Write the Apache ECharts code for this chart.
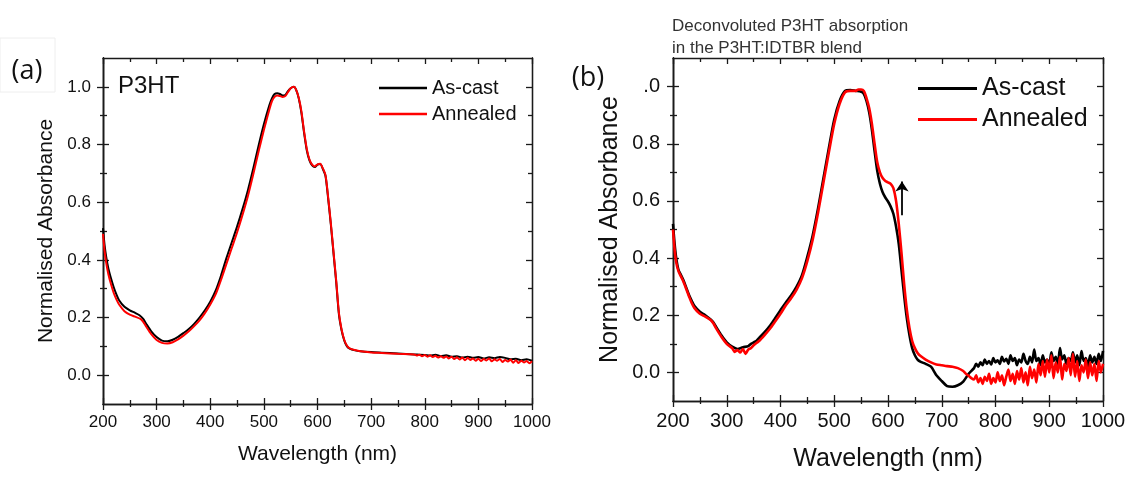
<!DOCTYPE html>
<html>
<head>
<meta charset="utf-8">
<script src="https://cdn.jsdelivr.net/npm/echarts@6/dist/echarts.min.js"></script>
<style>
html,body{margin:0;padding:0;background:#fff;}
#c{width:1131px;height:477px;}
</style>
</head>
<body>
<div id="c"></div>
<script>
// ---------- DATA ----------
const seriesNames = ['As-cast', 'Annealed'];
const xTicks = [200, 300, 400, 500, 600, 700, 800, 900, 1000];
const yMajorTicks = [0, 0.2, 0.4, 0.6, 0.8, 1.0];
const yMinorTicks = [0.1, 0.3, 0.5, 0.7, 0.9];

// Panel (a): P3HT film, [wavelength nm, normalised absorbance]
const asCastA = [[200,0.51],[203,0.45],[206,0.41],[210,0.37],[215,0.335],[220,0.305],[225,0.28],[230,0.26],[240,0.237],[250,0.225],[260,0.216],[268,0.208],[275,0.195],[280,0.18],[290,0.152],[300,0.132],[310,0.12],[320,0.118],[330,0.123],[340,0.133],[350,0.146],[360,0.16],[370,0.178],[380,0.2],[390,0.225],[400,0.255],[410,0.293],[420,0.345],[430,0.405],[440,0.46],[450,0.515],[460,0.575],[470,0.64],[480,0.715],[490,0.795],[500,0.87],[510,0.935],[515,0.96],[520,0.975],[525,0.978],[530,0.975],[535,0.97],[540,0.972],[545,0.985],[550,0.995],[556,1.0],[560,0.99],[565,0.96],[570,0.91],[575,0.84],[580,0.78],[585,0.745],[590,0.728],[595,0.722],[600,0.73],[605,0.732],[610,0.715],[615,0.69],[620,0.61],[625,0.52],[630,0.42],[635,0.32],[640,0.21],[645,0.155],[650,0.12],[655,0.1],[660,0.092],[670,0.086],[680,0.083],[700,0.08],[720,0.078],[750,0.075],[780,0.072],[800,0.07],[810,0.068],[820,0.071],[830,0.066],[840,0.069],[850,0.064],[860,0.066],[870,0.061],[880,0.064],[890,0.06],[900,0.063],[910,0.058],[920,0.062],[930,0.059],[940,0.063],[950,0.06],[960,0.055],[970,0.057],[980,0.052],[990,0.055],[1000,0.05]];
const annealedA = [[200,0.49],[203,0.43],[206,0.39],[210,0.35],[215,0.315],[220,0.285],[225,0.263],[230,0.245],[240,0.222],[250,0.21],[260,0.203],[270,0.195],[275,0.185],[280,0.17],[290,0.142],[300,0.122],[310,0.112],[320,0.11],[330,0.114],[340,0.124],[350,0.137],[360,0.152],[370,0.17],[380,0.19],[390,0.215],[400,0.245],[410,0.28],[420,0.33],[430,0.385],[440,0.44],[450,0.495],[460,0.555],[470,0.62],[480,0.695],[490,0.775],[500,0.85],[510,0.92],[515,0.95],[520,0.965],[525,0.97],[530,0.968],[535,0.965],[540,0.968],[545,0.982],[550,0.995],[556,1.0],[560,0.99],[565,0.962],[570,0.915],[575,0.845],[580,0.785],[585,0.748],[590,0.73],[595,0.724],[600,0.731],[605,0.733],[610,0.717],[615,0.693],[620,0.615],[625,0.525],[630,0.425],[635,0.325],[640,0.215],[645,0.158],[650,0.122],[655,0.102],[660,0.093],[670,0.087],[680,0.083],[700,0.079],[720,0.077],[750,0.074],[780,0.072],[785,0.068],[790,0.071],[795,0.066],[800,0.07],[805,0.064],[810,0.069],[815,0.063],[820,0.067],[825,0.061],[830,0.066],[835,0.06],[840,0.065],[845,0.058],[850,0.064],[855,0.056],[860,0.062],[865,0.054],[870,0.061],[875,0.052],[880,0.06],[885,0.053],[890,0.058],[895,0.05],[900,0.057],[905,0.049],[910,0.056],[915,0.051],[920,0.058],[925,0.048],[930,0.055],[935,0.05],[940,0.056],[945,0.046],[950,0.053],[955,0.047],[960,0.054],[965,0.043],[970,0.052],[975,0.042],[980,0.05],[985,0.044],[990,0.049],[995,0.041],[1000,0.048]];

// Panel (b): deconvoluted P3HT absorption in the P3HT:IDTBR blend
const asCastB = [[200,0.52],[203,0.45],[206,0.4],[210,0.36],[215,0.34],[220,0.32],[225,0.295],[230,0.27],[235,0.25],[240,0.232],[250,0.212],[260,0.2],[270,0.185],[275,0.175],[280,0.16],[290,0.13],[300,0.105],[310,0.09],[320,0.082],[330,0.088],[340,0.092],[345,0.1],[350,0.105],[355,0.11],[360,0.12],[370,0.14],[380,0.162],[390,0.19],[400,0.218],[410,0.245],[420,0.27],[430,0.3],[440,0.34],[450,0.405],[460,0.48],[470,0.575],[480,0.68],[490,0.785],[500,0.885],[510,0.95],[520,0.985],[530,0.988],[540,0.985],[550,0.982],[555,0.975],[560,0.95],[565,0.91],[570,0.85],[575,0.775],[580,0.705],[585,0.66],[590,0.63],[595,0.612],[600,0.598],[605,0.58],[610,0.555],[615,0.51],[620,0.45],[625,0.36],[630,0.27],[635,0.19],[640,0.13],[645,0.085],[650,0.06],[655,0.045],[660,0.038],[670,0.03],[680,0.02],[690,-0.01],[700,-0.03],[710,-0.048],[720,-0.05],[730,-0.045],[740,-0.032],[750,-0.005],[760,0.015],[764,0.03],[768,0.02],[772,0.035],[776,0.025],[780,0.045],[784,0.03],[788,0.04],[792,0.028],[796,0.05],[800,0.035],[804,0.042],[808,0.03],[812,0.055],[816,0.038],[820,0.048],[824,0.03],[828,0.06],[832,0.04],[836,0.05],[840,0.025],[844,0.045],[848,0.035],[852,0.065],[856,0.04],[860,0.03],[864,0.055],[868,0.035],[872,0.08],[876,0.04],[880,0.05],[884,0.025],[888,0.06],[892,0.035],[896,0.045],[900,0.03],[904,0.07],[908,0.04],[912,0.055],[916,0.03],[920,0.085],[924,0.045],[928,0.06],[932,0.03],[936,0.05],[940,0.04],[944,0.07],[948,0.035],[952,0.06],[956,0.025],[960,0.075],[964,0.04],[968,0.05],[972,0.02],[976,0.06],[980,0.035],[984,0.055],[988,0.03],[992,0.065],[996,0.04],[1000,0.075]];
const annealedB = [[200,0.5],[203,0.43],[206,0.385],[210,0.355],[215,0.335],[220,0.315],[225,0.29],[230,0.265],[235,0.242],[240,0.225],[250,0.205],[260,0.195],[270,0.183],[275,0.172],[280,0.155],[290,0.125],[300,0.1],[310,0.085],[315,0.072],[320,0.078],[325,0.07],[330,0.082],[335,0.065],[340,0.08],[345,0.085],[350,0.095],[360,0.11],[370,0.13],[380,0.152],[390,0.178],[400,0.205],[410,0.235],[420,0.26],[430,0.29],[440,0.33],[450,0.39],[460,0.465],[470,0.56],[480,0.665],[490,0.77],[500,0.87],[510,0.94],[520,0.98],[530,0.985],[540,0.985],[545,0.99],[550,0.99],[555,0.985],[560,0.96],[565,0.925],[570,0.87],[575,0.8],[580,0.735],[585,0.7],[590,0.68],[595,0.67],[600,0.665],[605,0.66],[610,0.645],[615,0.6],[620,0.52],[625,0.42],[630,0.31],[635,0.22],[640,0.155],[645,0.11],[650,0.085],[655,0.068],[660,0.058],[670,0.045],[680,0.035],[690,0.028],[700,0.025],[710,0.022],[720,0.02],[730,0.015],[740,0.005],[745,-0.005],[750,-0.012],[755,-0.02],[760,-0.025],[764,-0.01],[768,-0.035],[772,-0.02],[776,-0.04],[780,-0.015],[784,-0.03],[788,-0.005],[792,-0.04],[796,-0.02],[800,-0.035],[804,0.0],[808,-0.03],[812,-0.01],[816,-0.045],[820,-0.015],[824,0.01],[828,-0.03],[832,-0.005],[836,-0.04],[840,0.005],[844,-0.025],[848,0.015],[852,-0.035],[856,0.0],[860,-0.045],[864,0.02],[868,-0.02],[872,0.01],[876,-0.035],[880,0.03],[884,-0.01],[888,0.04],[892,-0.015],[896,0.045],[900,0.0],[904,0.06],[908,-0.02],[912,0.035],[916,0.0],[920,0.055],[924,-0.025],[928,0.03],[932,0.005],[936,0.05],[940,-0.01],[944,0.065],[948,-0.015],[952,0.04],[956,-0.03],[960,0.025],[964,0.0],[968,0.045],[972,-0.02],[976,0.035],[980,-0.01],[984,0.03],[988,-0.03],[992,0.04],[996,0.0],[1000,0.03]];

// arrow marking the growth of the 0-0 shoulder (panel b)
const arrowB = [[626, 0.55], [626, 0.668]];

// ---------- CHART ----------
const FONT = '"Liberation Sans", Arial, sans-serif';
const AX = '#1a1a1a';
const grids = [
  {left: 103, top: 58, width: 429, height: 346},
  {left: 673, top: 58, width: 430, height: 346}
];
const sty = [
  {tick: 17, name: 21, xGap: 40, yGap: 46, xMargin: 10, yMargin: 6, lw: 2},
  {tick: 20, name: 25, xGap: 46, yGap: 50, xMargin: 10, yMargin: 7, lw: 2.6}
];

const xAxes = [], yAxes = [];
grids.forEach((g, gi) => {
  const s = sty[gi];
  const baseX = {type: 'value', gridIndex: gi, min: 200, max: 1000, interval: 100,
    splitLine: {show: false}, axisLine: {show: true, onZero: false, lineStyle: {color: AX, width: 1.3}}};
  xAxes.push(Object.assign({}, baseX, {position: 'bottom',
    name: 'Wavelength (nm)', nameLocation: 'middle', nameGap: s.xGap,
    nameTextStyle: {fontFamily: FONT, fontSize: s.name, color: '#111'},
    axisTick: {show: true, inside: false, length: 6, lineStyle: {color: AX, width: 1.3}},
    minorTick: {show: true, splitNumber: 2, length: 3, lineStyle: {color: AX, width: 1.3}},
    axisLabel: {show: true, margin: s.xMargin, fontFamily: FONT, fontSize: s.tick, color: '#111',
      customValues: xTicks, formatter: v => String(v)}}));
  xAxes.push(Object.assign({}, baseX, {position: 'bottom',
    axisTick: {show: true, inside: true, length: 6, lineStyle: {color: AX, width: 1.3}},
    minorTick: {show: true, splitNumber: 2, length: 4, lineStyle: {color: AX, width: 1.3}},
    axisLabel: {show: false}}));
  xAxes.push(Object.assign({}, baseX, {position: 'top',
    axisTick: {show: true, inside: true, length: 6, lineStyle: {color: AX, width: 1.3}},
    minorTick: {show: true, splitNumber: 2, length: 4, lineStyle: {color: AX, width: 1.3}},
    axisLabel: {show: false}}));

  const baseY = {type: 'value', gridIndex: gi, min: -0.1, max: 1.1,
    splitLine: {show: false}, minorTick: {show: false},
    axisLine: {show: true, onZero: false, lineStyle: {color: AX, width: 1.3}}};
  const tk = (inside, len, vals) => ({show: true, inside: inside, length: len, customValues: vals,
    lineStyle: {color: AX, width: 1.3}});
  yAxes.push(Object.assign({}, baseY, {position: 'left',
    name: 'Normalised Absorbance', nameLocation: 'middle', nameGap: s.yGap,
    nameTextStyle: {fontFamily: FONT, fontSize: s.name, color: '#111'},
    axisTick: tk(false, 6, yMajorTicks),
    axisLabel: {show: true, margin: s.yMargin + 6, fontFamily: FONT, fontSize: s.tick, color: '#111',
      customValues: yMajorTicks, formatter: v => v.toFixed(1)}}));
  yAxes.push(Object.assign({}, baseY, {position: 'left', axisTick: tk(true, 6, yMajorTicks), axisLabel: {show: false}}));
  yAxes.push(Object.assign({}, baseY, {position: 'left', axisTick: tk(false, 3, yMinorTicks), axisLabel: {show: false}}));
  yAxes.push(Object.assign({}, baseY, {position: 'left', axisTick: tk(true, 4, yMinorTicks), axisLabel: {show: false}}));
  yAxes.push(Object.assign({}, baseY, {position: 'right', axisTick: tk(true, 6, yMajorTicks), axisLabel: {show: false}}));
  yAxes.push(Object.assign({}, baseY, {position: 'right', axisTick: tk(true, 4, yMinorTicks), axisLabel: {show: false}}));
});

function line(name, data, color, gi, extra) {
  return Object.assign({
    type: 'line', name: name, data: data,
    xAxisIndex: gi * 3, yAxisIndex: gi * 6,
    symbol: 'none', smooth: 0.25, clip: true,
    lineStyle: {color: color, width: sty[gi].lw}, itemStyle: {color: color},
    emphasis: {disabled: true}
  }, extra || {});
}

const option = {
  animation: false,
  backgroundColor: '#fff',
  title: {
    text: 'Deconvoluted P3HT absorption\nin the P3HT:IDTBR blend',
    left: 667, top: 10,
    textStyle: {fontFamily: FONT, fontSize: 17, fontWeight: 'normal', color: '#333', lineHeight: 22}
  },
  grid: grids,
  xAxis: xAxes,
  yAxis: yAxes,
  legend: [
    {left: 374, top: 72, orient: 'vertical', itemWidth: 48, itemHeight: 2.4, itemGap: 4,
     textStyle: {fontFamily: FONT, fontSize: 20, color: '#111', lineHeight: 22},
     data: [{name: 'As-cast', icon: 'rect', itemStyle: {color: '#000'}},
            {name: 'Annealed', icon: 'rect', itemStyle: {color: '#ff0000'}}],
     selectedMode: false},
    {left: 913, top: 70, orient: 'vertical', itemWidth: 59, itemHeight: 3.2, itemGap: 4,
     textStyle: {fontFamily: FONT, fontSize: 25, color: '#111', lineHeight: 27},
     data: [{name: 'As-cast', icon: 'rect', itemStyle: {color: '#000'}},
            {name: 'Annealed', icon: 'rect', itemStyle: {color: '#ff0000'}}],
     selectedMode: false}
  ],
  series: [
    line(seriesNames[0], asCastA, '#000000', 0),
    line(seriesNames[1], annealedA, '#ff0000', 0),
    line(seriesNames[0], asCastB, '#000000', 1),
    line(seriesNames[1], annealedB, '#ff0000', 1, {
      markLine: {
        silent: true, symbol: ['none', 'arrow'], symbolSize: 10,
        lineStyle: {color: '#000', width: 1.8, type: 'solid'},
        label: {show: false},
        emphasis: {disabled: true},
        data: [[{coord: arrowB[0]}, {coord: arrowB[1]}]]
      }
    })
  ],
  graphic: [
    {type: 'rect', z: 100, shape: {x: 0, y: 38, width: 55, height: 54},
     style: {fill: '#fff', stroke: '#eeeeee', lineWidth: 1}},
    {type: 'text', z: 101, x: 27, y: 71,
     style: {text: '(a)', fontFamily: '"Open Sans", sans-serif', fontSize: 27, fill: '#111', align: 'center', verticalAlign: 'middle'}},
    {type: 'rect', z: 100, shape: {x: 560, y: 52, width: 85, height: 44},
     style: {fill: '#fff'}},
    {type: 'text', z: 101, x: 588, y: 78,
     style: {text: '(b)', fontFamily: '"Open Sans", sans-serif', fontSize: 27, fill: '#111', align: 'center', verticalAlign: 'middle'}},
    {type: 'text', z: 101, x: 118, y: 86,
     style: {text: 'P3HT', fontFamily: FONT, fontSize: 24, fill: '#111', align: 'left', verticalAlign: 'middle'}}
  ]
};

const chart = echarts.init(document.getElementById('c'), null, {renderer: 'canvas'});
chart.setOption(option);
</script>
</body>
</html>
